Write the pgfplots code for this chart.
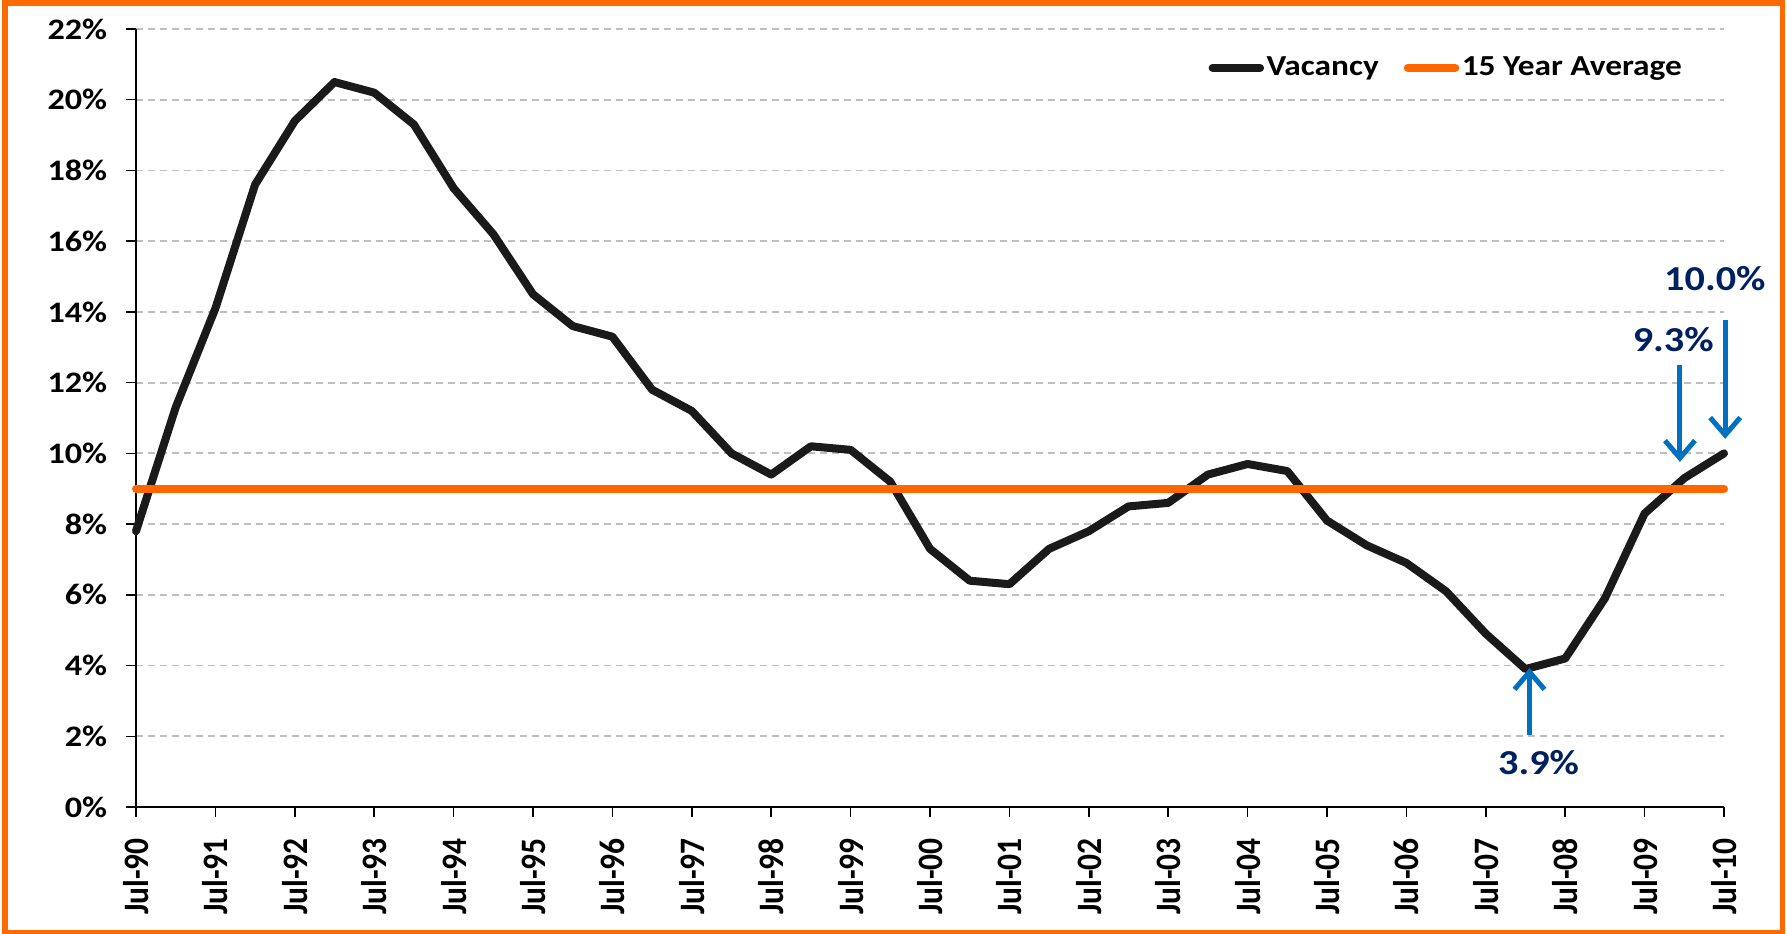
\documentclass[border=0pt]{standalone}
\usepackage{pgfplots}
\pgfplotsset{compat=1.18}
\usepackage{fontspec}
\setmainfont{Carlito}[FakeStretch=1.15]
\newfontfamily\xlabfont{Carlito}[FakeStretch=0.88]
\usetikzlibrary{arrows.meta}
\definecolor{borderorange}{HTML}{FF6A00}
\definecolor{avgorange}{HTML}{FF6600}
\definecolor{arrowblue}{HTML}{0070C0}
\definecolor{navy}{HTML}{002060}
\definecolor{vacblack}{HTML}{1A1A1A}
\definecolor{gridgray}{HTML}{BFBFBF}

\pgfplotstableread{
i v
0 7.8
1 11.3
2 14.1
3 17.6
4 19.4
5 20.5
6 20.2
7 19.3
8 17.5
9 16.2
10 14.5
11 13.6
12 13.3
13 11.8
14 11.2
15 10.0
16 9.4
17 10.2
18 10.1
19 9.2
20 7.3
21 6.4
22 6.3
23 7.3
24 7.8
25 8.5
26 8.6
27 9.4
28 9.7
29 9.5
30 8.1
31 7.4
32 6.9
33 6.1
34 4.9
35 3.9
36 4.2
37 5.9
38 8.3
39 9.3
40 10.0
}\vacancy

\pgfplotstableread{
i v
0 9.0
40 9.0
}\average

\begin{document}
\begin{tikzpicture}
\begin{axis}[
  scale only axis,
  width=635.2pt, height=311.2pt,
  xmin=0, xmax=40, ymin=0, ymax=22,
  clip=false,
  axis x line*=bottom, axis y line*=left,
  axis line style={black, line width=0.6pt},
  xtick={0,2,...,40},
  xticklabels={Jul-90,Jul-91,Jul-92,Jul-93,Jul-94,Jul-95,Jul-96,Jul-97,Jul-98,Jul-99,Jul-00,Jul-01,Jul-02,Jul-03,Jul-04,Jul-05,Jul-06,Jul-07,Jul-08,Jul-09,Jul-10},
  ytick={0,2,...,22},
  yticklabels={0\%,2\%,4\%,6\%,8\%,10\%,12\%,14\%,16\%,18\%,20\%,22\%},
  tick align=outside,
  major tick length=4pt,
  tick style={black, line width=0.6pt},
  x tick label style={rotate=90, anchor=east, font=\xlabfont\bfseries\fontsize{14.3}{16}\selectfont},
  xticklabel shift=5pt,
  y tick label style={font=\bfseries\fontsize{11.9}{14}\selectfont},
  yticklabel shift=4pt,
  ymajorgrids,
  major grid style={gridgray, line width=0.7pt, dash pattern=on 2.8pt off 2pt},
  legend columns=2,
  legend style={at={(0.9754,0.950)}, anchor=east, draw=none, fill=none,
    font=\bfseries\fontsize{11.6}{14}\selectfont,
    inner xsep=0pt, inner ysep=0pt,
    nodes={inner xsep=1pt, inner ysep=1pt},
    /tikz/every even column/.append style={column sep=9pt}},
  legend image code/.code={\draw[#1, line cap=round] (0pt,0pt) -- (19pt,0pt);},
]
\addplot[vacblack, line width=3.2pt, line join=round, line cap=round] table[x=i, y=v] {\vacancy};
\addlegendentry{Vacancy}
\addplot[avgorange, line width=3.2pt, line cap=round] table[x=i, y=v] {\average};
\addlegendentry{15 Year Average}

\draw[arrowblue, line width=2pt, -{Straight Barb[length=7pt, width=12pt]}] (axis cs:35.1,2.04) -- (axis cs:35.1,3.93);
\draw[arrowblue, line width=2pt, -{Straight Barb[length=7pt, width=12pt]}] (axis cs:38.89,12.5) -- (axis cs:38.89,9.76);
\draw[arrowblue, line width=2pt, -{Straight Barb[length=7pt, width=12pt]}] (axis cs:40.03,13.77) -- (axis cs:40.03,10.41);
\node[navy, anchor=base, inner sep=0pt, font=\bfseries\fontsize{14}{16}\selectfont] at (axis cs:35.33,0.93) {3.9\%};
\node[navy, anchor=base, inner sep=0pt, font=\bfseries\fontsize{14}{16}\selectfont] at (axis cs:38.72,12.88) {9.3\%};
\node[navy, anchor=base, inner sep=0pt, font=\bfseries\fontsize{14}{16}\selectfont] at (axis cs:39.77,14.6) {10.0\%};
\end{axis}
\draw[borderorange, line width=2.2pt] (-52.3pt,-50.2pt) rectangle (658.6pt,321.6pt);
\pgfresetboundingbox
\path[use as bounding box] (-54.4pt,-50.4pt) rectangle (660.4pt,322.8pt);
\end{tikzpicture}
\end{document}
